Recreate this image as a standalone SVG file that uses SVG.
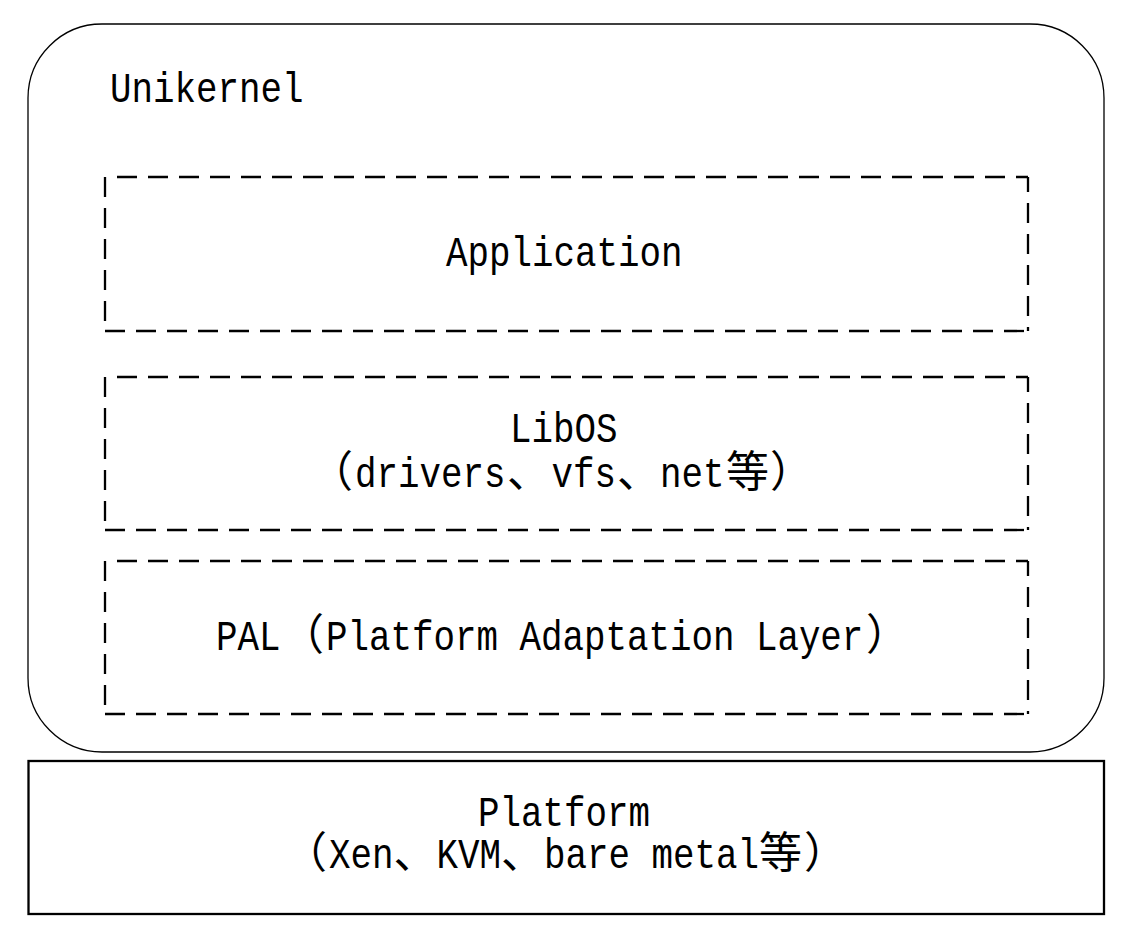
<svg xmlns="http://www.w3.org/2000/svg" width="1142" height="942" viewBox="0 0 1142 942">
<style>
.bg{fill:#fff}
.outer{fill:#fff;stroke:#000;stroke-width:1.3}
.solid{fill:#fff;stroke:#000;stroke-width:2.3}
.dash{stroke:#000;stroke-width:2.3;stroke-dasharray:20 11;fill:none}
.a{font-family:"Liberation Mono",monospace;font-size:35.83px;fill:#000}
.c{font-family:"Noto Sans CJK SC",sans-serif;font-size:43px;fill:#000}
</style>
<rect class="bg" x="0" y="0" width="1142" height="942"/>
<g id="unikernel">
<rect class="outer" x="28" y="24" width="1076" height="728" rx="74" ry="74"/>
<text class="a" transform="translate(110,102) scale(1,1.2)">Unikernel</text>
</g>
<g id="application">
<line class="dash" x1="117" y1="177" x2="1028" y2="177"/>
<line class="dash" x1="1028" y1="177" x2="1028" y2="331" stroke-dashoffset="5"/>
<line class="dash" x1="105" y1="331" x2="1028" y2="331"/>
<line class="dash" x1="105" y1="177" x2="105" y2="331"/>
<text class="a" transform="translate(446,266) scale(1,1.2)">Application</text>
</g>
<g id="libos">
<line class="dash" x1="117" y1="377" x2="1028" y2="377"/>
<line class="dash" x1="1028" y1="377" x2="1028" y2="530" stroke-dashoffset="5"/>
<line class="dash" x1="105" y1="530" x2="1028" y2="530"/>
<line class="dash" x1="105" y1="377" x2="105" y2="530"/>
<text class="a" transform="translate(510,442) scale(1,1.2)">LibOS</text>
<text class="c" x="310" y="487">（</text>
<text class="a" transform="translate(355,487) scale(1,1.2)">drivers</text>
<text class="c" x="507" y="487">、</text>
<text class="a" transform="translate(551.5,487) scale(1,1.2)">vfs</text>
<text class="c" x="617" y="487">、</text>
<text class="a" transform="translate(660,487) scale(1,1.2)">net</text>
<text class="c" x="726" y="487">等</text>
<text class="c" x="770" y="487">）</text>
</g>
<g id="pal">
<line class="dash" x1="117" y1="561" x2="1028" y2="561"/>
<line class="dash" x1="1028" y1="561" x2="1028" y2="714" stroke-dashoffset="5"/>
<line class="dash" x1="105" y1="714" x2="1028" y2="714"/>
<line class="dash" x1="105" y1="561" x2="105" y2="714"/>
<text class="a" transform="translate(216,650) scale(1,1.2)">PAL</text>
<text class="c" x="281" y="650">（</text>
<text class="a" transform="translate(326,650) scale(1,1.2)">Platform Adaptation Layer</text>
<text class="c" x="866" y="650">）</text>
</g>
<g id="platform">
<rect class="solid" x="28.5" y="761" width="1075.5" height="153"/>
<text class="a" transform="translate(478,826) scale(1,1.2)">Platform</text>
<text class="c" x="284" y="868">（</text>
<text class="a" transform="translate(329,868) scale(1,1.2)">Xen</text>
<text class="c" x="393.5" y="868">、</text>
<text class="a" transform="translate(436.5,868) scale(1,1.2)">KVM</text>
<text class="c" x="501" y="868">、</text>
<text class="a" transform="translate(544,868) scale(1,1.2)">bare metal</text>
<text class="c" x="759" y="868">等</text>
<text class="c" x="804" y="868">）</text>
</g>
<g id="connectors"/>
</svg>
